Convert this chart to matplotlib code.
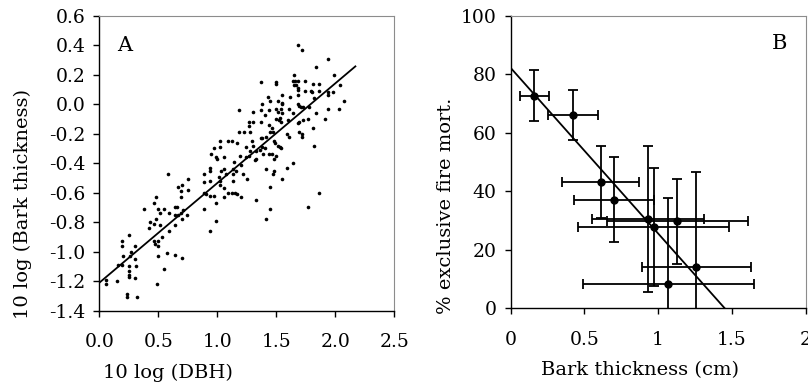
import matplotlib
matplotlib.use("Agg")
import matplotlib.pyplot as plt
import numpy as np

# Panel A: log DBH vs log bark thickness
log_dbh = [
    0.58, 0.48, 0.46, 0.38, 0.50, 0.55, 0.51, 0.59, 0.48, 0.43, 0.46, 0.42, 0.51, 0.59, 0.53,
    0.46, 0.47, 0.50, 0.50, 0.57, 0.50, 0.25, 0.19, 0.19, 0.30, 0.27, 0.20, 0.26, 0.30, 0.16,
    0.19, 0.25, 0.31, 0.25, 0.25, 0.25, 0.30, 0.55, 0.06, 0.06, 0.15, 0.49, 0.23, 0.23, 0.32,
    1.02, 1.09, 0.97, 1.02, 0.95, 0.99, 1.00, 1.06, 0.94, 0.94, 1.03, 1.06, 1.07, 0.89, 0.75,
    0.70, 0.67, 0.69, 0.75, 0.69, 0.89, 0.94, 1.01, 1.02, 0.89, 0.90, 0.94, 0.97, 1.02, 1.06,
    1.09, 1.06, 0.99, 0.89, 0.64, 0.66, 0.64, 0.67, 0.69, 0.71, 0.74, 0.70, 0.64, 0.99, 0.94,
    0.64, 0.70,
    1.37, 1.50, 1.50, 1.43, 1.55, 1.38, 1.45, 1.51, 1.55, 1.55, 1.18, 1.30, 1.37, 1.44, 1.50,
    1.54, 1.51, 1.55, 1.40, 1.50, 1.52, 1.53, 1.54, 1.27, 1.30, 1.37, 1.44, 1.46, 1.27, 1.18,
    1.23, 1.28, 1.45, 1.47, 1.41, 1.37, 1.38, 1.29, 1.17, 1.12, 1.48, 1.49, 1.24, 1.30, 1.38,
    1.40, 1.51, 1.53, 1.54, 1.28, 1.33, 1.36, 1.44, 1.46, 1.50, 1.19, 1.24, 1.27, 1.39, 1.33,
    1.32, 1.14, 1.48, 1.41, 1.20, 1.13, 1.16, 1.22, 1.13, 1.48, 1.47, 1.25, 1.55, 1.13, 1.45,
    1.12, 1.15, 1.17, 1.20, 1.33, 1.45, 1.41,
    1.68, 1.72, 1.94, 1.84, 1.65, 1.99, 1.64, 1.66, 1.68, 1.65, 1.67, 1.74, 1.81, 1.86, 2.04,
    1.68, 1.68, 1.74, 1.79, 1.80, 1.86, 1.94, 1.98, 1.94, 1.62, 1.68, 1.82, 2.07, 1.68, 1.69,
    1.71, 1.73, 1.61, 1.78, 1.94, 2.03, 1.64, 1.84, 1.77, 1.73, 1.68, 1.69, 1.91, 1.60, 1.81,
    1.69, 1.72, 1.72, 1.59, 1.61, 1.82, 1.59, 1.64, 1.86, 1.77,
]
log_bark = [
    -0.47, -0.63, -0.67, -0.71, -0.71, -0.71, -0.74, -0.74, -0.78, -0.80, -0.81, -0.84, -0.82, -0.86, -0.90,
    -0.93, -0.95, -0.93, -0.96, -1.01, -1.03, -0.89, -0.93, -0.96, -0.96, -1.00, -1.03, -1.03, -1.05, -1.09,
    -1.09, -1.10, -1.10, -1.13, -1.16, -1.17, -1.18, -1.12, -1.19, -1.22, -1.20, -1.22, -1.29, -1.31, -1.31,
    -0.25, -0.25, -0.30, -0.29, -0.34, -0.36, -0.37, -0.36, -0.43, -0.45, -0.45, -0.44, -0.47, -0.47, -0.51,
    -0.55, -0.56, -0.59, -0.58, -0.63, -0.53, -0.52, -0.49, -0.52, -0.60, -0.61, -0.62, -0.62, -0.55, -0.57,
    -0.60, -0.63, -0.67, -0.71, -0.70, -0.70, -0.75, -0.75, -0.74, -0.72, -0.75, -0.78, -0.82, -0.79, -0.86,
    -1.02, -1.04,
    0.15, 0.15, 0.14, 0.05, 0.06, 0.00, 0.02, 0.02, 0.01, 0.00, -0.04, -0.05, -0.04, -0.04, -0.03,
    -0.03, -0.05, -0.06, -0.07, -0.10, -0.11, -0.09, -0.12, -0.12, -0.12, -0.12, -0.14, -0.16, -0.15, -0.19,
    -0.19, -0.19, -0.19, -0.19, -0.22, -0.23, -0.23, -0.25, -0.26, -0.25, -0.25, -0.26, -0.29, -0.28, -0.29,
    -0.30, -0.28, -0.29, -0.30, -0.32, -0.32, -0.31, -0.34, -0.34, -0.35, -0.35, -0.36, -0.35, -0.34, -0.37,
    -0.38, -0.39, -0.37, -0.44, -0.41, -0.44, -0.45, -0.47, -0.47, -0.45, -0.47, -0.51, -0.51, -0.52, -0.56,
    -0.60, -0.60, -0.61, -0.63, -0.65, -0.71, -0.78,
    0.40, 0.37, 0.31, 0.25, 0.20, 0.20, 0.16, 0.16, 0.16, 0.13, 0.13, 0.16, 0.14, 0.14, 0.13,
    0.11, 0.10, 0.09, 0.09, 0.08, 0.09, 0.08, 0.08, 0.06, 0.05, 0.06, 0.04, 0.02, 0.00, -0.01,
    -0.02, -0.02, -0.03, -0.02, -0.03, -0.03, -0.06, -0.06, -0.10, -0.11, -0.13, -0.12, -0.10, -0.11, -0.16,
    -0.19, -0.20, -0.22, -0.20, -0.22, -0.28, -0.43, -0.40, -0.60, -0.70,
]
fit_a = (-1.21, 0.676)   # intercept, slope
fit_a_xmax = 2.17

# Panel B: bark thickness vs % exclusive fire mortality
bark_cm = [0.16, 0.42, 0.61, 0.70, 0.93, 0.97, 1.13, 1.26, 1.07]
bark_err = [0.10, 0.17, 0.26, 0.27, 0.38, 0.51, 0.48, 0.37, 0.58]
mort_pct = [72.7, 66.0, 43.3, 37.2, 30.5, 27.8, 29.8, 14.1, 8.5]
mort_err = [8.8, 8.5, 12.3, 14.4, 24.9, 20.2, 14.5, 32.4, 29.2]
fit_b = (82.2, -56.6)
fit_b_xmax = 1.453

plt.rcParams['font.family'] = ['DejaVu Serif']
plt.rcParams['font.size'] = 13.5

fig = plt.figure(figsize=(8.08, 3.85), dpi=100)
ax1 = fig.add_axes([0.123, 0.193, 0.365, 0.766])
ax2 = fig.add_axes([0.632, 0.199, 0.365, 0.760])

for ax in (ax1, ax2):
    ax.spines['top'].set_color('#8c8c8c')
    ax.spines['right'].set_color('#8c8c8c')
    ax.spines['left'].set_linewidth(1.0)
    ax.spines['bottom'].set_linewidth(1.0)
    ax.tick_params(direction='out', length=4, width=1, top=False, right=False)
    ax.tick_params(axis='x', pad=12)
    ax.tick_params(axis='y', pad=6)

# --- A ---
ax1.plot(log_dbh, log_bark, 'o', color='black', ms=2.6, mew=0)
xa = np.array([0, fit_a_xmax])
ax1.plot(xa, fit_a[0] + fit_a[1] * xa, color='black', lw=1.3)
ax1.set_xlim(0, 2.5)
ax1.set_ylim(-1.4, 0.6)
ax1.set_xticks(np.arange(0, 2.51, 0.5))
ax1.set_xticklabels(['%.1f' % v for v in np.arange(0, 2.51, 0.5)])
yt = np.round(np.arange(-1.4, 0.61, 0.2), 1)
ax1.set_yticks(yt)
ax1.set_yticklabels(['%.1f' % (v + 0.0) for v in yt])
ax1.set_xlabel('10 log (DBH)', va='center', fontsize=14)
ax1.xaxis.set_label_coords(0.233, -0.211)
ax1.set_ylabel('10 log (Bark thickness)', va='center', fontsize=14)
ax1.yaxis.set_label_coords(-0.259, 0.362)
ax1.text(0.06, 0.899, 'A', transform=ax1.transAxes, fontsize=15, va='center', ha='left')

# --- B ---
ax2.errorbar(bark_cm, mort_pct, xerr=bark_err, yerr=mort_err, fmt='o', color='black',
             ms=5, elinewidth=1.3, capsize=3.6, capthick=1.3)
xb = np.array([0, fit_b_xmax])
ax2.plot(xb, fit_b[0] + fit_b[1] * xb, color='black', lw=1.3)
ax2.set_xlim(0, 2)
ax2.set_ylim(0, 100)
ax2.set_xticks([0, 0.5, 1, 1.5, 2])
ax2.set_xticklabels(['0', '0.5', '1', '1.5', '2'])
ax2.set_yticks(range(0, 101, 20))
ax2.set_xlabel('Bark thickness (cm)', va='center', fontsize=14)
ax2.xaxis.set_label_coords(0.437, -0.211)
ax2.set_ylabel('% exclusive fire mort.', va='center', fontsize=14)
ax2.yaxis.set_label_coords(-0.218, 0.35)
ax2.text(0.939, 0.905, 'B', transform=ax2.transAxes, fontsize=15, va='center', ha='right')

fig.savefig('out.png', dpi=100)
